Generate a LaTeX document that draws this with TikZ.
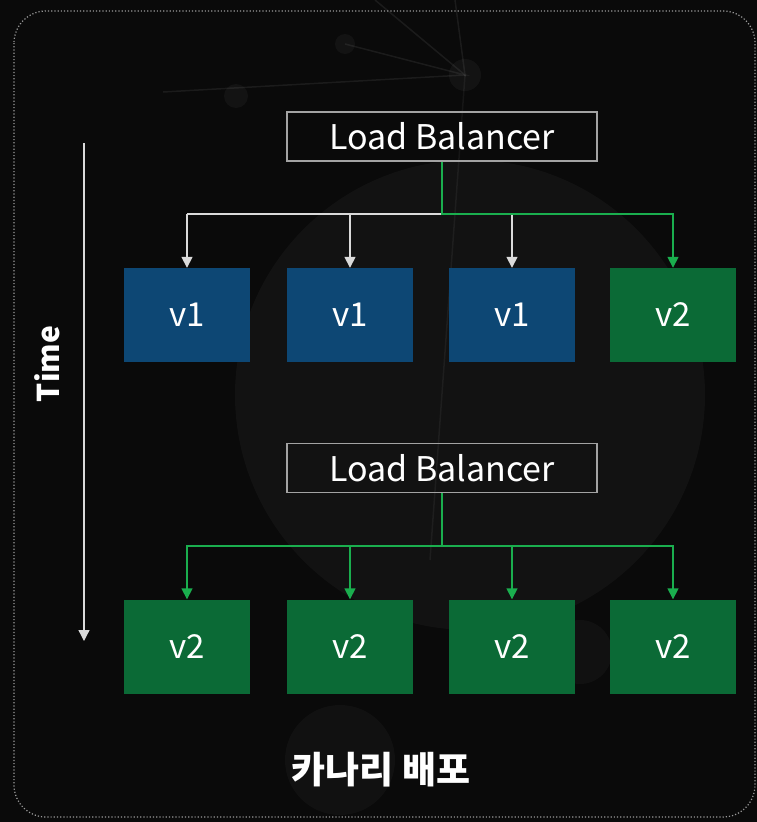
\documentclass[tikz,border=0pt]{standalone}
\usepackage{fontspec}
\setmainfont{Noto Sans CJK KR}
\usetikzlibrary{arrows.meta}

\definecolor{bg}{HTML}{0A0A0A}
\definecolor{vblue}{HTML}{0D4774}
\definecolor{vgreen}{HTML}{0B6A36}
\definecolor{lgreen}{HTML}{1AAE4E}
\definecolor{lgray}{HTML}{DADADA}

\tikzset{
  lbbox/.style={draw=lgray!75!black, line width=1.2pt, inner sep=0pt,
    minimum width=310pt, minimum height=49pt, text=white,
    font=\fontsize{34}{34}\selectfont},
  oldbox/.style={fill=vblue, inner sep=0pt, minimum width=126pt,
    minimum height=94pt, text=white, font=\fontsize{33}{33}\selectfont},
  newbox/.style={oldbox, fill=vgreen},
  oldline/.style={draw=lgray, line width=1.6pt},
  newline/.style={draw=lgreen, line width=1.6pt},
  oldarr/.style={oldline, -{Triangle[width=11pt,length=11pt]}},
  newarr/.style={newline, -{Triangle[width=11pt,length=11pt]}},
}

\begin{document}
\begin{tikzpicture}[x=1pt, y=-1pt]
        \useasboundingbox (0,0) rectangle (757,822);
        \fill[bg] (0,0) rectangle (757,822);

        % faint background decoration
        \fill[white, opacity=0.035] (470,395) circle (235);
        \fill[white, opacity=0.03] (340,760) circle (55);
        \fill[white, opacity=0.03] (580,652) circle (32);
        \fill[white, opacity=0.04] (236,96) circle (12);
        \fill[white, opacity=0.04] (465,75) circle (16);
        \fill[white, opacity=0.04] (345,44) circle (10);
        \draw[white, opacity=0.07, line width=1.5pt] (375,0) -- (465,75) -- (455,0);
        \draw[white, opacity=0.07, line width=1.5pt] (163,92) -- (465,75) -- (345,44);
        \draw[white, opacity=0.05, line width=1.5pt] (465,75) -- (430,560);

        % dotted frame
        \draw[gray!80, dotted, line width=1.2pt, rounded corners=32pt]
            (14,11) rectangle (755,817);

        % time axis
        \coordinate (t0) at (84,143);
        \coordinate (t1) at (84,641);
        \draw[oldarr, line width=1.3pt] (t0) -- (t1);
        \node[rotate=90, text=white, font=\fontsize{30}{30}\selectfont\bfseries] (time) at (47,364) {Time};

        % before: three v1 and one v2
        \node[lbbox] (lb1) at (442,136.5) {Load Balancer};
        \node[oldbox] (r1a) at (187,315) {v1};
        \node[oldbox] (r1b) at (350,315) {v1};
        \node[oldbox] (r1c) at (512,315) {v1};
        \node[newbox] (r1d) at (673,315) {v2};
        \coordinate (s1) at (442,214);
        \draw[oldline] (s1) -- (s1 -| r1a.north);
        \draw[oldarr] (s1 -| r1a.north) -- (r1a.north);
        \draw[oldarr] (s1 -| r1b.north) -- (r1b.north);
        \draw[oldarr] (s1 -| r1c.north) -- (r1c.north);
        \draw[newarr] (lb1.south) -- (s1) -| (r1d.north);

        % after: all v2
        \node[lbbox] (lb2) at (442,468) {Load Balancer};
        \node[newbox] (r2a) at (187,646.5) {v2};
        \node[newbox] (r2b) at (350,646.5) {v2};
        \node[newbox] (r2c) at (512,646.5) {v2};
        \node[newbox] (r2d) at (673,646.5) {v2};
        \coordinate (s2) at (442,546);
        \draw[newline] (lb2.south) -- (s2);
        \draw[newarr] (s2) -| (r2a.north);
        \draw[newarr] (s2 -| r2b.north) -- (r2b.north);
        \draw[newarr] (s2 -| r2c.north) -- (r2c.north);
        \draw[newarr] (s2) -| (r2d.north);

        \node[text=white, font=\fontsize{37}{37}\selectfont\bfseries] (title) at (381,770) {카나리 배포};
\end{tikzpicture}
\end{document}
